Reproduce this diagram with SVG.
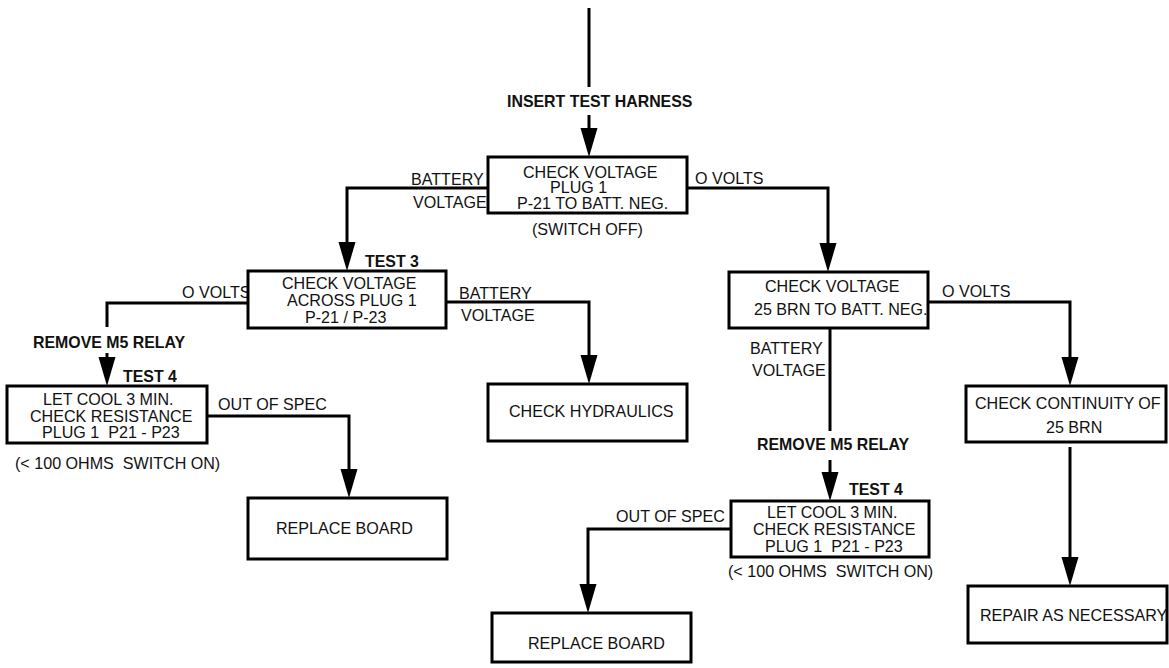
<svg xmlns="http://www.w3.org/2000/svg" xmlns:xlink="http://www.w3.org/1999/xlink" width="1169" height="668" viewBox="0 0 1169 668">
  <style>
    .box { fill: #ffffff; stroke: #000000; stroke-width: 3; }
    .wire { fill: none; stroke: #000000; stroke-width: 3; }
    text { font-family: "Liberation Sans", Arial, sans-serif; font-size: 16.1px; fill: #111111; white-space: pre; }
    .b { font-weight: bold; font-size: 15.9px; }
  </style>
  <defs>
    <!-- downward arrowhead, tip at the origin -->
    <path id="arrow" d="M-8.5,-29 L8.5,-29 L0,0 Z" fill="#000000"/>
  </defs>

  <rect width="1169" height="668" fill="#ffffff"/>

  <g id="connectors">
    <path class="wire" d="M589,8 V87"/>
    <path class="wire" d="M589,115 V135"/>
    <use xlink:href="#arrow" x="589" y="157"/>

    <path class="wire" d="M488,188 H347 V245"/>
    <use xlink:href="#arrow" x="347" y="271"/>

    <path class="wire" d="M687,188 H828 V246"/>
    <use xlink:href="#arrow" x="828" y="272"/>

    <path class="wire" d="M248,303 H107 V327"/>
    <path class="wire" d="M107,353 V362"/>
    <use xlink:href="#arrow" x="107" y="386"/>

    <path class="wire" d="M446,302 H589 V360"/>
    <use xlink:href="#arrow" x="589" y="384"/>

    <path class="wire" d="M207,416 H349 V474"/>
    <use xlink:href="#arrow" x="349" y="498"/>

    <path class="wire" d="M928,302 H1070 V362"/>
    <use xlink:href="#arrow" x="1070" y="386"/>

    <path class="wire" d="M830,328 V431"/>
    <path class="wire" d="M830,460 V477"/>
    <use xlink:href="#arrow" x="830" y="501"/>

    <path class="wire" d="M731,529 H588 V589"/>
    <use xlink:href="#arrow" x="588" y="613"/>

    <path class="wire" d="M1070,447 V562"/>
    <use xlink:href="#arrow" x="1070" y="586"/>
  </g>

  <g id="labels">
    <text class="b" x="507" y="107">INSERT TEST HARNESS</text>
    <text x="411" y="185">BATTERY</text>
    <text x="413" y="208">VOLTAGE</text>
    <text x="695" y="184">O VOLTS</text>
    <text x="532" y="235">(SWITCH OFF)</text>
    <text class="b" x="365" y="267">TEST 3</text>
    <text x="182" y="298">O VOLTS</text>
    <text x="459" y="299">BATTERY</text>
    <text x="461" y="321">VOLTAGE</text>
    <text class="b" x="33" y="348">REMOVE M5 RELAY</text>
    <text class="b" x="123" y="382">TEST 4</text>
    <text x="218" y="410">OUT OF SPEC</text>
    <text x="15" y="469">(&lt; 100 OHMS  SWITCH ON)</text>
    <text x="942" y="297">O VOLTS</text>
    <text x="750" y="354">BATTERY</text>
    <text x="752" y="376">VOLTAGE</text>
    <text class="b" x="757" y="450">REMOVE M5 RELAY</text>
    <text class="b" x="849" y="495">TEST 4</text>
    <text x="616" y="522">OUT OF SPEC</text>
    <text x="728" y="577">(&lt; 100 OHMS  SWITCH ON)</text>
  </g>

  <g id="check-voltage-plug1">
    <rect class="box" x="488" y="157" width="199" height="56"/>
    <text x="523" y="178">CHECK VOLTAGE</text>
    <text x="550" y="193">PLUG 1</text>
    <text x="517" y="209">P-21 TO BATT. NEG.</text>
  </g>

  <g id="test3-across-plug1">
    <rect class="box" x="248" y="271" width="198" height="57"/>
    <text x="282" y="289">CHECK VOLTAGE</text>
    <text x="287" y="306">ACROSS PLUG 1</text>
    <text x="305" y="323">P-21 / P-23</text>
  </g>

  <g id="check-voltage-25brn">
    <rect class="box" x="729" y="272" width="199" height="56"/>
    <text x="765" y="292">CHECK VOLTAGE</text>
    <text x="754" y="315">25 BRN TO BATT. NEG.</text>
  </g>

  <g id="test4-left">
    <rect class="box" x="7" y="386" width="200" height="57"/>
    <text x="43" y="405">LET COOL 3 MIN.</text>
    <text x="30" y="422">CHECK RESISTANCE</text>
    <text x="42" y="438">PLUG 1  P21 - P23</text>
  </g>

  <g id="check-hydraulics">
    <rect class="box" x="488" y="384" width="199" height="57"/>
    <text x="509" y="417">CHECK HYDRAULICS</text>
  </g>

  <g id="check-continuity">
    <rect class="box" x="966" y="386" width="200" height="56"/>
    <text x="975" y="409">CHECK CONTINUITY OF</text>
    <text x="1046" y="433">25 BRN</text>
  </g>

  <g id="replace-board-left">
    <rect class="box" x="248" y="498" width="199" height="61"/>
    <text x="276" y="534">REPLACE BOARD</text>
  </g>

  <g id="test4-right">
    <rect class="box" x="731" y="501" width="198" height="56"/>
    <text x="767" y="518">LET COOL 3 MIN.</text>
    <text x="753" y="535">CHECK RESISTANCE</text>
    <text x="765" y="552">PLUG 1  P21 - P23</text>
  </g>

  <g id="repair-as-necessary">
    <rect class="box" x="968" y="586" width="199" height="57"/>
    <text x="980" y="621">REPAIR AS NECESSARY</text>
  </g>

  <g id="replace-board-right">
    <rect class="box" x="492" y="613" width="199" height="49"/>
    <text x="528" y="649">REPLACE BOARD</text>
  </g>
</svg>
